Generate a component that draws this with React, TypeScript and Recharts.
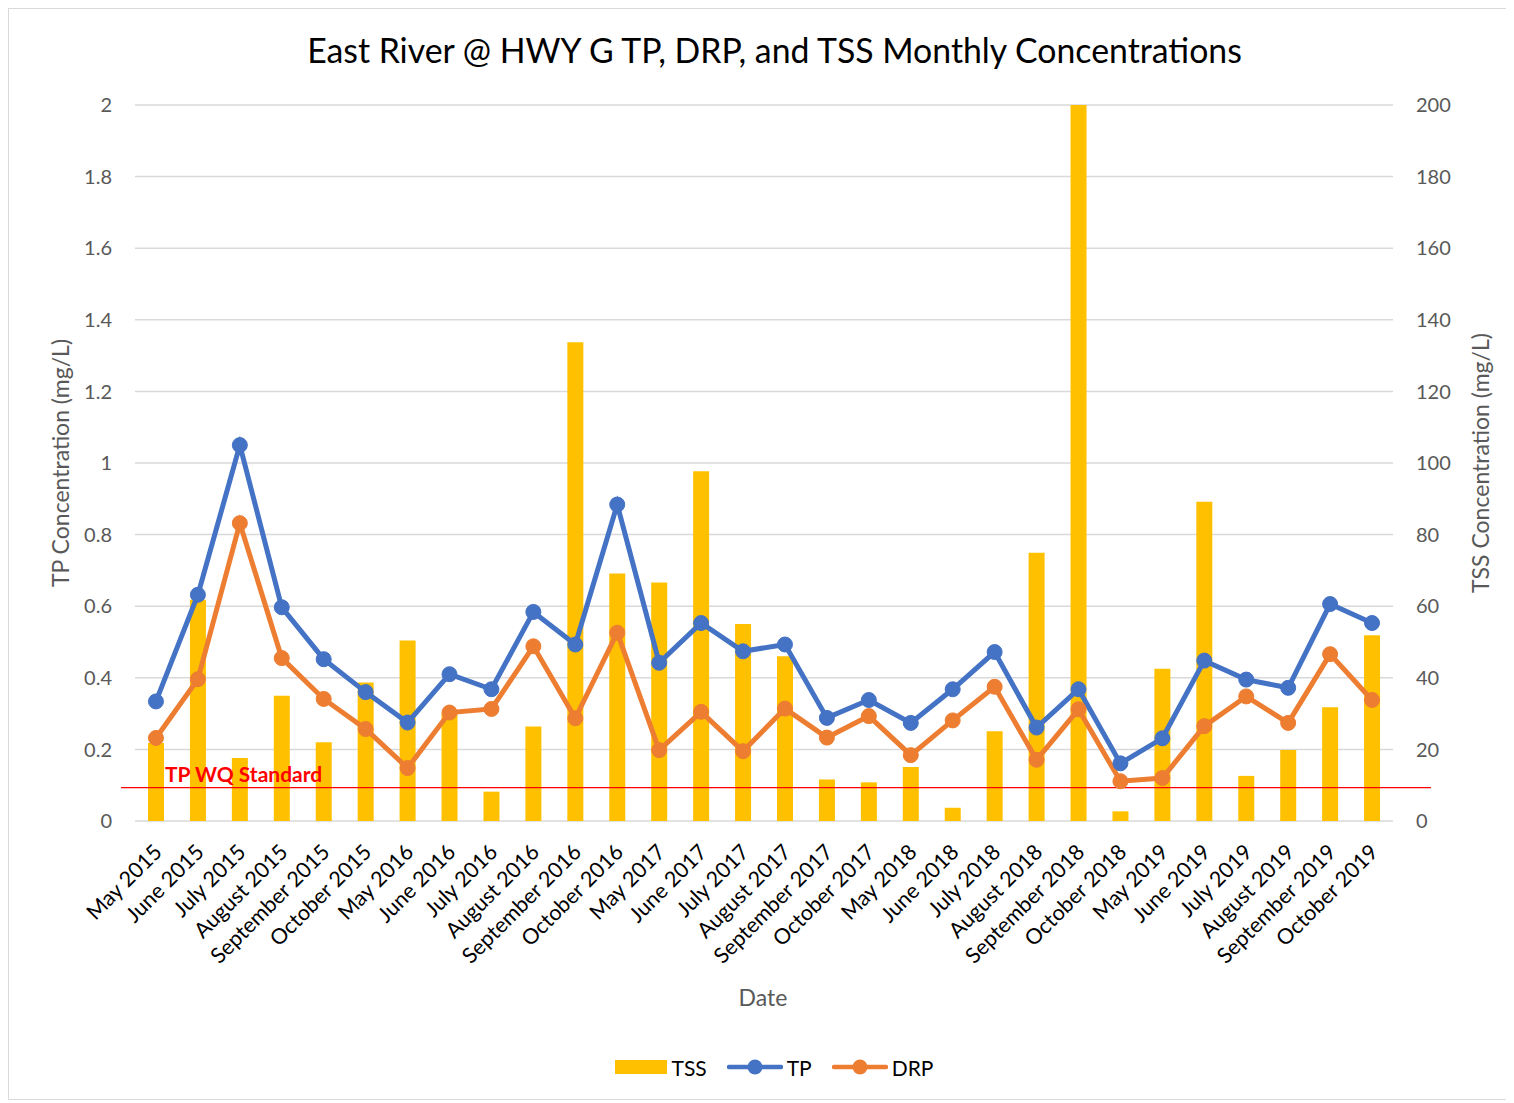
import React from 'react';
import {
  ComposedChart, Bar, Line, XAxis, YAxis, CartesianGrid, Legend, ReferenceLine,
} from 'recharts';

const dates = [
  'May 2015', 'June 2015', 'July 2015', 'August 2015', 'September 2015', 'October 2015',
  'May 2016', 'June 2016', 'July 2016', 'August 2016', 'September 2016', 'October 2016',
  'May 2017', 'June 2017', 'July 2017', 'August 2017', 'September 2017', 'October 2017',
  'May 2018', 'June 2018', 'July 2018', 'August 2018', 'September 2018', 'October 2018',
  'May 2019', 'June 2019', 'July 2019', 'August 2019', 'September 2019', 'October 2019',
];

const tssValues = [
  21.8, 61.8, 17.6, 35.0, 22.0, 38.7,
  50.4, 30.0, 8.2, 26.4, 133.7, 69.1,
  66.6, 97.7, 55.0, 46.0, 11.6, 10.8,
  15.1, 3.7, 25.1, 74.9, 200, 2.7,
  42.5, 89.2, 12.6, 19.8, 31.8, 51.9,
];

const tpValues = [
  0.334, 0.632, 1.05, 0.597, 0.452, 0.36,
  0.275, 0.41, 0.368, 0.584, 0.493, 0.884,
  0.442, 0.553, 0.474, 0.493, 0.288, 0.338,
  0.274, 0.368, 0.472, 0.261, 0.368, 0.161,
  0.231, 0.448, 0.395, 0.372, 0.606, 0.553,
];

const drpValues = [
  0.232, 0.396, 0.832, 0.455, 0.341, 0.257,
  0.148, 0.303, 0.313, 0.488, 0.287, 0.526,
  0.198, 0.305, 0.195, 0.314, 0.233, 0.293,
  0.184, 0.281, 0.375, 0.171, 0.312, 0.111,
  0.12, 0.265, 0.348, 0.274, 0.466, 0.338,
];

const leftTicks = [0, 0.2, 0.4, 0.6, 0.8, 1, 1.2, 1.4, 1.6, 1.8, 2];
const rightTicks = [0, 20, 40, 60, 80, 100, 120, 140, 160, 180, 200];
const tpStandard = 0.093;
const legendOrder = ['TSS', 'TP', 'DRP'];

const data = dates.map((d, i) => ({
  date: d,
  tss: tssValues[i],
  tp: tpValues[i],
  drp: drpValues[i],
}));

const FONT = 'Lato, "Open Sans", sans-serif';
const W = 1504;
const H = 1090;

const XTick = (props: any) => {
  const { x, y, payload } = props;
  const px = x + 2;
  const py = y + 27;
  return (
    <text
      x={px}
      y={py}
      transform={`rotate(-45, ${px}, ${py})`}
      textAnchor="end"
      dy="0.35em"
      fontSize={21.5}
      fontFamily={FONT}
      fill="#000000"
    >
      {payload.value}
    </text>
  );
};

const StandardLine = (p: any) => {
  const { x1, y1, x2, y2 } = p;
  return (
    <g>
      <line x1={x1 - 14} y1={y1} x2={x2 + 38} y2={y2} stroke="#FF0000" strokeWidth={1.3} />
      <text x={x1 + 30} y={y1 - 6} fontSize={21} fontWeight="bold" fontFamily={FONT} fill="#FF0000">
        TP WQ Standard
      </text>
    </g>
  );
};

const LegendContent = (props: any) => {
  const payload = [...(props.payload || [])].sort(
    (a: any, b: any) => legendOrder.indexOf(a.value) - legendOrder.indexOf(b.value),
  );
  return (
    <div
      style={{
        display: 'flex',
        justifyContent: 'center',
        alignItems: 'center',
        height: 40,
        paddingLeft: 26,
        fontFamily: FONT,
        fontSize: 21,
        color: '#000',
      }}
    >
      {payload.map((e: any, i: number) => (
        <div key={i} style={{ display: 'flex', alignItems: 'center', marginRight: i < payload.length - 1 ? 20 : 0 }}>
          {e.type === 'rect' ? (
            <svg width={52} height={14} style={{ marginRight: 5 }}>
              <rect x={0} y={0} width={52} height={14} fill={e.color} />
            </svg>
          ) : (
            <svg width={56} height={16} style={{ marginRight: 4 }}>
              <line x1={2} y1={8} x2={54} y2={8} stroke={e.color} strokeWidth={4.5} strokeLinecap="round" />
              <circle cx={28} cy={8} r={7.5} fill={e.color} />
            </svg>
          )}
          <span>{e.value}</span>
        </div>
      ))}
    </div>
  );
};

export default function App() {
  return (
    <div style={{ width: W, height: H, border: '1px solid #D9D9D9', position: 'relative', background: '#fff' }}>
      <ComposedChart
        width={W}
        height={H}
        data={data}
        margin={{ top: 96, right: 40, bottom: 128, left: 46 }}
      >
        <CartesianGrid yAxisId="left" vertical={false} stroke="#D9D9D9" strokeWidth={1.5} />
        <XAxis
          dataKey="date"
          interval={0}
          height={150}
          tickLine={false}
          axisLine={false}
          tickSize={0}
          tickMargin={0}
          tick={<XTick />}
        />
        <YAxis
          yAxisId="left"
          orientation="left"
          width={80}
          domain={[0, 2]}
          ticks={leftTicks}
          tickFormatter={(v: number) => String(v)}
          axisLine={false}
          tickLine={false}
          tickSize={0}
          tickMargin={23}
          tick={{ fontSize: 20, fill: '#595959', fontFamily: FONT }}
        />
        <YAxis
          yAxisId="right"
          orientation="right"
          width={80}
          domain={[0, 200]}
          ticks={rightTicks}
          axisLine={false}
          tickLine={false}
          tickSize={0}
          tickMargin={23}
          tick={{ fontSize: 20, fill: '#595959', fontFamily: FONT, textAnchor: 'start' }}
        />
        <Bar
          yAxisId="right"
          dataKey="tss"
          name="TSS"
          fill="#FFC000"
          barSize={16}
          legendType="rect"
          isAnimationActive={false}
        />
        <Line
          yAxisId="left"
          type="linear"
          dataKey="tp"
          name="TP"
          stroke="#4472C4"
          strokeWidth={5}
          dot={{ r: 7.5, fill: '#4472C4', stroke: '#4472C4', strokeWidth: 1 }}
          activeDot={false}
          legendType="line"
          isAnimationActive={false}
        />
        <Line
          yAxisId="left"
          type="linear"
          dataKey="drp"
          name="DRP"
          stroke="#ED7D31"
          strokeWidth={5}
          dot={{ r: 7.5, fill: '#ED7D31', stroke: '#ED7D31', strokeWidth: 1 }}
          activeDot={false}
          legendType="line"
          isAnimationActive={false}
        />
        <ReferenceLine yAxisId="left" y={tpStandard} shape={<StandardLine />} />
        <Legend
          layout="horizontal"
          verticalAlign="middle"
          align="center"
          wrapperStyle={{ position: 'absolute', left: 0, top: 1038, width: W, height: 40 }}
          content={<LegendContent />}
        />
        <text x={765.5} y={54} textAnchor="middle" fontSize={33.8} fontFamily={FONT} fill="#000">
          East River @ HWY G TP, DRP, and TSS Monthly Concentrations
        </text>
        <text
          x={51}
          y={454}
          transform="rotate(-90, 51, 454)"
          textAnchor="middle"
          dominantBaseline="central"
          fontSize={23}
          fontFamily={FONT}
          fill="#595959"
        >
          TP Concentration (mg/L)
        </text>
        <text
          x={1471}
          y={454}
          transform="rotate(-90, 1471, 454)"
          textAnchor="middle"
          dominantBaseline="central"
          fontSize={23}
          fontFamily={FONT}
          fill="#595959"
        >
          TSS Concentration (mg/L)
        </text>
        <text x={754} y={988} textAnchor="middle" dominantBaseline="central" fontSize={23} fontFamily={FONT} fill="#595959">
          Date
        </text>
      </ComposedChart>
    </div>
  );
}
